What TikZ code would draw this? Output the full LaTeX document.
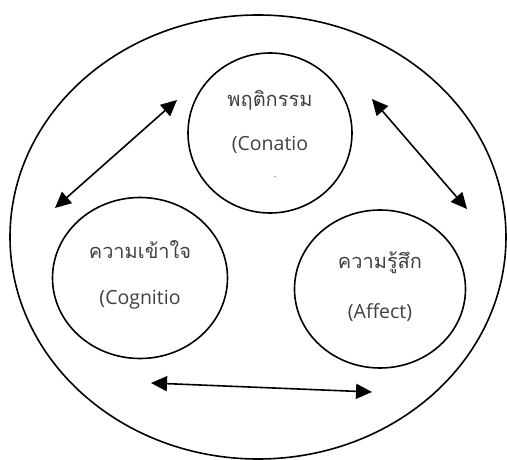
\documentclass[tikz,border=0pt]{standalone}
\usepackage{fontspec}
\setmainfont{Open Sans}
\newfontfamily\thaifont[Script=Thai]{Loma}
\usepackage{tikz}
\usetikzlibrary{shapes.geometric, arrows.meta, positioning}
\definecolor{TextGray}{RGB}{64, 64, 64}

\begin{document}
\begin{tikzpicture}[
    x=1pt, y=-1pt,
    ring/.style={ellipse, draw=black, line width=1.6pt, inner sep=0pt, outer sep=0pt},
    thaitext/.style={font=\thaifont\fontsize{20}{24}\selectfont, text=TextGray, inner sep=0pt},
    engtext/.style={font=\fontsize{19.5}{23}\selectfont, text=TextGray, inner sep=0pt},
    arrow/.style={{Triangle[length=16pt, width=15pt]}-{Triangle[length=16pt, width=15pt]}, line width=1.6pt}
]
\useasboundingbox (0,0) rectangle (507,460);

% Outer ring
\node[ring, minimum width=496pt, minimum height=444pt] (outer) at (258,237) {};

% Conation
\node[ring, minimum width=164pt, minimum height=160pt] (conation) at (270,133) {};
\node[thaitext] (conth) at ([yshift=33pt]conation.center) {พฤติกรรม};
\node[engtext] (conen) at ([yshift=-12pt]conation.center) {(Conatio};
\node[engtext, font=\small] (condot) at ([xshift=5pt, yshift=-44pt]conation.center) {.};

% Cognition
\node[ring, minimum width=175pt, minimum height=161pt] (cognition) at (140,278) {};
\node[thaitext] (cogth) at ([yshift=28pt]cognition.center) {ความเข้าใจ};
\node[engtext] (cogen) at ([yshift=-22pt]cognition.center) {(Cognitio};

% Affect
\node[ring, minimum width=171pt, minimum height=158pt] (affect) at (380,289) {};
\node[thaitext] (affth) at ([yshift=26pt]affect.center) {ความรู้สึก};
\node[engtext] (affen) at ([yshift=-24pt]affect.center) {(Affect)};

% Arrow ends
\coordinate (lefta) at (55,208);
\coordinate (leftb) at (177,100);
\coordinate (righta) at (372,99);
\coordinate (rightb) at (467,209);
\coordinate (bota) at (151,383);
\coordinate (botb) at (372,392);

% Arrows
\draw[arrow] (lefta) -- (leftb);
\draw[arrow] (righta) -- (rightb);
\draw[arrow] (bota) -- (botb);

\end{tikzpicture}
\end{document}
